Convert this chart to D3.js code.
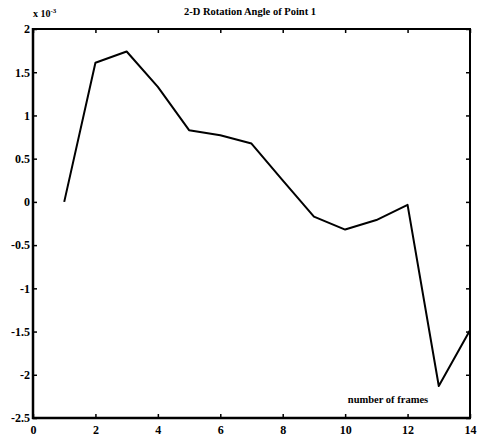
<!DOCTYPE html>
<html><head><meta charset="utf-8">
<script src="https://cdn.jsdelivr.net/npm/d3@7"></script>
<style>body{margin:0;background:#fff}svg{display:block}text{font-family:"Liberation Serif","Times New Roman",serif;font-weight:bold;fill:#000}</style>
</head><body>
<script>
const frames = [1,2,3,4,5,6,7,8,9,10,11,12,13,14];
const angle = [0,1.61,1.74,1.33,0.83,0.77,0.675,0.25,-0.17,-0.32,-0.21,-0.035,-2.13,-1.485];
const xTicks = [0,2,4,6,8,10,12,14];
const yTicks = [2,1.5,1,0.5,0,-0.5,-1,-1.5,-2,-2.5];
const yTickLabels = ["2","1.5","1","0.5","0","-0.5","-1","-1.5","-2","-2.5"];
const title = "2-D Rotation Angle of Point 1";
const xLabel = "number of frames";

const W=477,H=437;
const svg=d3.select("body").append("svg").attr("width",W).attr("height",H);
const x=d3.scaleLinear().domain([0,14]).range([33,470]);
const y=d3.scaleLinear().domain([-2.5,2]).range([418,29]);

// frame
svg.append("rect").attr("x",33).attr("y",29).attr("width",437).attr("height",389)
  .attr("fill","none").attr("stroke","#000").attr("stroke-width",2);
svg.append("line").attr("x1",33).attr("x2",33).attr("y1",28).attr("y2",419).attr("stroke","#000").attr("stroke-width",2.5);
svg.append("line").attr("x1",32).attr("x2",471).attr("y1",418).attr("y2",418).attr("stroke","#000").attr("stroke-width",2.5);

const tk=4;
const gb=svg.append("g").attr("transform","translate(0,418)")
  .call(d3.axisBottom(x).tickValues(xTicks).tickSizeInner(-tk).tickSizeOuter(0).tickPadding(7).tickFormat(d3.format("d")));
svg.append("g").attr("transform","translate(0,29)")
  .call(d3.axisTop(x).tickValues(xTicks).tickSizeInner(-tk).tickSizeOuter(0).tickFormat(""));
const gl=svg.append("g").attr("transform","translate(33,0)")
  .call(d3.axisLeft(y).tickValues(yTicks).tickSizeInner(-tk).tickSizeOuter(0).tickPadding(3).tickFormat((d,i)=>yTickLabels[i]));
svg.append("g").attr("transform","translate(470,0)")
  .call(d3.axisRight(y).tickValues(yTicks).tickSizeInner(-tk).tickSizeOuter(0).tickFormat(""));
svg.selectAll(".domain").remove();
svg.selectAll(".tick line").attr("stroke","#000").attr("stroke-width",1.5);
svg.selectAll(".tick text").style("font-family",'"Liberation Serif",serif').style("font-weight","bold").style("font-size","12px").attr("fill","#000");
gb.selectAll(".tick text").attr("dy","0.71em");

svg.append("path").datum(frames.map((f,i)=>[f,angle[i]]))
  .attr("fill","none").attr("stroke","#000").attr("stroke-width",2).attr("stroke-linejoin","round")
  .attr("d",d3.line().x(d=>x(d[0])).y(d=>y(d[1])));

svg.append("text").attr("x",250).attr("y",15).attr("text-anchor","middle").style("font-size","10.5px").text(title);
const ex=svg.append("text").attr("x",33).attr("y",17).style("font-size","10px");
ex.append("tspan").text("x 10");
ex.append("tspan").attr("dy",-4).style("font-size","7px").text("-3");
svg.append("text").attr("x",388).attr("y",403).attr("text-anchor","middle").style("font-size","10.5px").text(xLabel);
</script>
</body></html>
